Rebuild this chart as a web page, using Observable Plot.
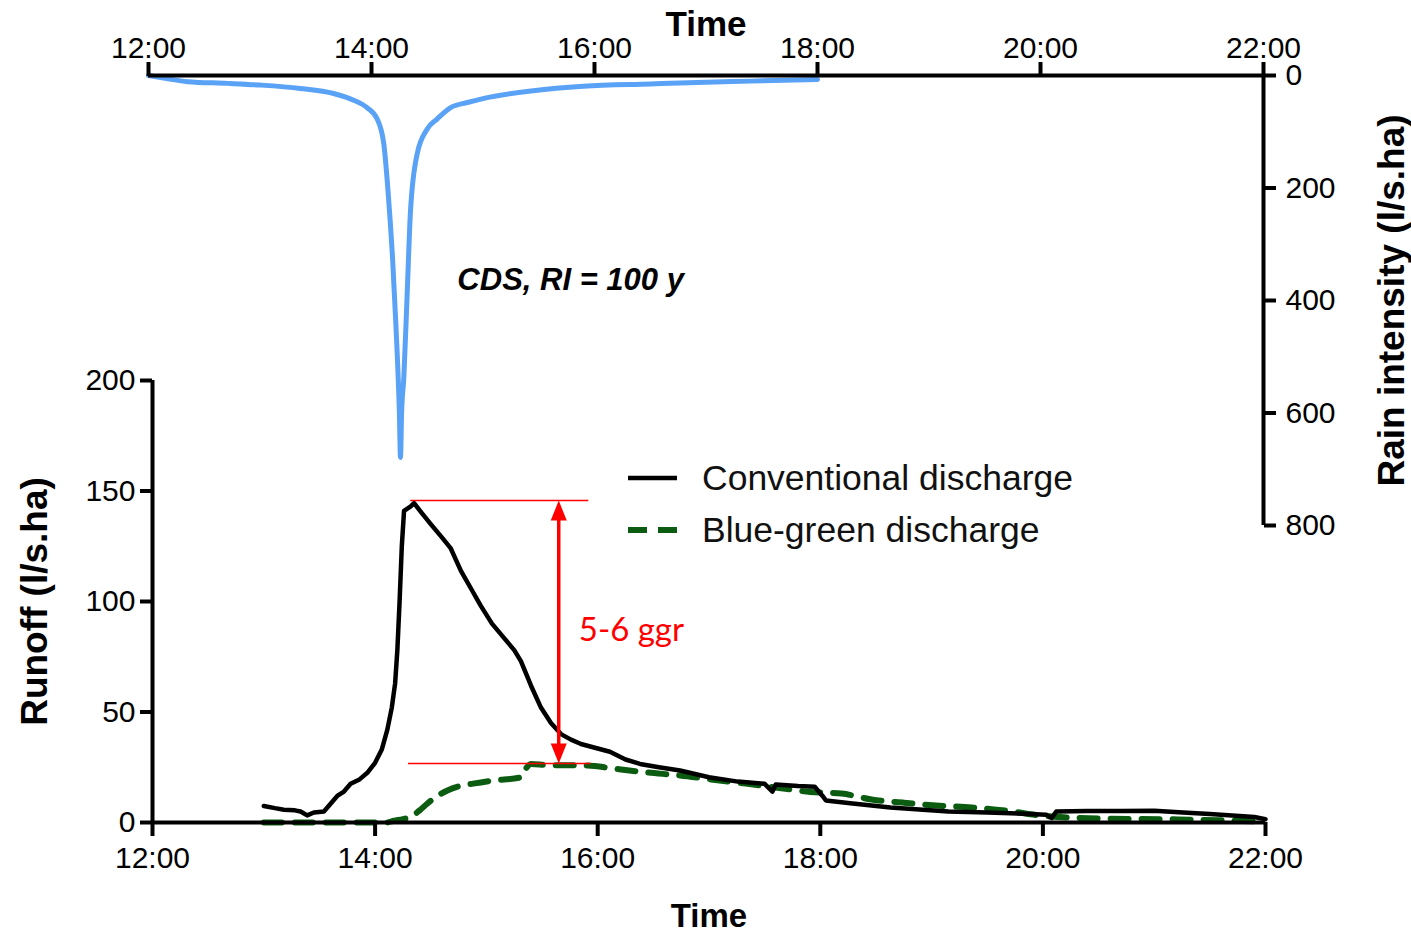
<!DOCTYPE html>
<html>
<head>
<meta charset="utf-8">
<script src="https://cdn.jsdelivr.net/npm/d3@7"></script>
<script src="https://cdn.jsdelivr.net/npm/@observablehq/plot@0.6"></script>
<style>
  html, body { margin: 0; padding: 0; background: white; }
  #wrap { position: relative; width: 1411px; height: 937px; overflow: hidden; background: white; font-family: "Liberation Sans", Arial, sans-serif; }
  #wrap > svg { position: absolute; left: 0; top: 0; }
  .leg { position: absolute; display: flex; align-items: center; font-size: 35.5px; color: #111; white-space: nowrap; }
  .leg svg { position: static; margin-right: 24px; }
</style>
</head>
<body>
<div id="wrap"></div>
<script>
// ---- data (hours of day) ----
const xTicks = [12, 14, 16, 18, 20, 22];
const xTickLabels = ["12:00", "14:00", "16:00", "18:00", "20:00", "22:00"];
const rainTicks = [0, 200, 400, 600, 800];
const runoffTicks = [0, 50, 100, 150, 200];

const rainTime  = [12.00, 12.15, 12.35, 12.71, 13.00, 13.36, 13.66, 13.84, 13.96, 14.05, 14.11, 14.15, 14.19, 14.22, 14.25, 14.26, 14.27, 14.29, 14.32, 14.35, 14.41, 14.50, 14.59, 14.71, 14.86, 15.00, 15.45, 15.90, 16.50, 17.00, 17.40, 18.00];
const rainValue = [0, 5, 11, 14, 17, 23, 32, 44, 57, 77, 121, 210, 329, 448, 600, 679, 600, 537, 388, 240, 139, 95, 77, 57, 48, 41, 27, 19, 15, 12, 10, 7];

const convTime  = [13.00, 13.10, 13.18, 13.28, 13.33, 13.39, 13.45, 13.54, 13.60, 13.66, 13.72, 13.78, 13.86, 13.93, 14.00, 14.06, 14.11, 14.15, 14.18, 14.20, 14.22, 14.24, 14.26, 14.29, 14.32, 14.35, 14.42, 14.50, 14.60, 14.68, 14.77, 14.86, 14.95, 15.05, 15.15, 15.25, 15.31, 15.40, 15.49, 15.58, 15.67, 15.76, 15.85, 16.00, 16.11, 16.25, 16.38, 16.55, 16.74, 17.00, 17.26, 17.50, 17.57, 17.60, 17.80, 17.95, 18.02, 18.05, 18.29, 18.63, 19.15, 19.50, 19.83, 20.03, 20.08, 20.12, 20.40, 20.70, 21.00, 21.22, 21.50, 21.90, 22.00];
const convValue = [7.5, 6.5, 5.8, 5.5, 5.0, 3.2, 4.5, 5.0, 8.5, 12, 14, 17.5, 19.5, 22.5, 27, 33, 42, 52, 63, 78, 100, 125, 141, 142, 143, 144.5, 140, 135, 129, 124, 114, 106, 98, 90, 84, 78, 73, 62, 52, 45, 40, 37.5, 35.5, 33.5, 32, 28.5, 26.5, 25, 23.5, 20.5, 18.5, 17.5, 14, 17.2, 16.5, 16.2, 12, 10, 8.6, 6.8, 5.0, 4.5, 4.0, 3.5, 2.0, 5.0, 5.2, 5.2, 5.3, 4.6, 3.8, 2.5, 1.5];

const bgTime  = [13.00, 14.10, 14.17, 14.25, 14.32, 14.40, 14.47, 14.56, 14.65, 14.76, 14.88, 15.06, 15.31, 15.35, 15.40, 15.55, 15.91, 16.14, 16.45, 16.74, 17.02, 17.33, 17.65, 17.91, 18.19, 18.46, 18.74, 19.04, 19.36, 19.66, 20.01, 20.53, 21.22, 21.90, 22.00];
const bgValue = [0, 0, 0.8, 1.5, 2.5, 5.5, 8.6, 12, 14.5, 16.5, 17.6, 19, 20.4, 24, 26.5, 26, 25.8, 24.4, 22.6, 21.3, 19.5, 17.6, 15.5, 13.8, 13.1, 10.4, 9, 7.7, 6.8, 5.4, 3.0, 1.8, 1.4, 0.5, 0.3];

// annotation (data units)
const peakLevel = 145.7, bgLevel = 26.7;
const peakSpan = [14.32, 15.92], bgSpan = [14.30, 15.94];
const arrowTime = 15.65;
const ratioLabel = {t: 15.83, v: 87, text: "5-6 ggr"};
const stormLabel = {t: 14.77, v: 364, text: "CDS, RI = 100 y"};
const seriesNames = ["Conventional discharge", "Blue-green discharge"];

// ---- build tables ----
const rain = rainTime.map((t, i) => ({t, v: rainValue[i]}));
const conv = convTime.map((t, i) => ({t, v: convValue[i]}));
const bg = bgTime.map((t, i) => ({t, v: bgValue[i]}));

const W = 1411, H = 937;
const FONT = "Liberation Sans, Arial, sans-serif";
const BLUE = "#5aa2f5", GREEN = "#0b5c10", RED = "#ff0000";
const fmt = d => xTickLabels[xTicks.indexOf(d)];
const svgStyle = {background: "transparent", overflow: "visible", fontFamily: FONT, fontSize: "30px", color: "black"};

// ---- top (rain) panel ----
const rainPlot = Plot.plot({
  width: W, height: H,
  marginLeft: 148, marginRight: W - 1263, marginTop: 75, marginBottom: H - 525,
  style: svgStyle,
  x: {domain: [12, 22]},
  y: {domain: [0, 800], reverse: true},
  marks: [
    Plot.line(rain, {x: "t", y: "v", stroke: BLUE, strokeWidth: 5, curve: "monotone-x"}),
    Plot.ruleY([0], {stroke: "black", strokeWidth: 4}),
    Plot.ruleX([22], {stroke: "black", strokeWidth: 4}),
    Plot.axisX({anchor: "top", ticks: xTicks, tickFormat: fmt, tickSize: 14, tickPadding: 4, strokeWidth: 4, fontSize: 30, label: null}),
    Plot.axisY({anchor: "right", ticks: rainTicks, tickSize: 12, tickPadding: 10, strokeWidth: 4, fontSize: 30, label: null}),
    Plot.text(["Time"], {text: d => d, frameAnchor: "top", dy: -51, lineAnchor: "middle", textAnchor: "middle", fontSize: 35, fontWeight: "bold"}),
    Plot.text(["Rain intensity (l/s.ha)"], {text: d => d, frameAnchor: "right", dx: 129, rotate: -90, textAnchor: "middle", lineAnchor: "middle", fontSize: 37, fontWeight: "bold"}),
    Plot.text([stormLabel], {x: "t", y: "v", text: "text", textAnchor: "start", fontSize: 31, fontWeight: "bold", fontStyle: "italic"})
  ]
});

// ---- bottom (runoff) panel ----
const triUp = {draw(ctx) { ctx.moveTo(0, 0); ctx.lineTo(8, 20); ctx.lineTo(-8, 20); ctx.closePath(); }};
const triDown = {draw(ctx) { ctx.moveTo(0, 0); ctx.lineTo(8, -20); ctx.lineTo(-8, -20); ctx.closePath(); }};

const runoffPlot = Plot.plot({
  width: W, height: H,
  marginLeft: 152, marginRight: W - 1265, marginTop: 380, marginBottom: H - 822,
  style: svgStyle,
  x: {domain: [12, 22]},
  y: {domain: [0, 200]},
  marks: [
    Plot.line(bg, {x: "t", y: "v", stroke: GREEN, strokeWidth: 6, strokeDasharray: "18,13", curve: "monotone-x"}),
    Plot.line(conv, {x: "t", y: "v", stroke: "black", strokeWidth: 4.5}),
    Plot.ruleY([0], {stroke: "black", strokeWidth: 4}),
    Plot.ruleX([12], {stroke: "black", strokeWidth: 4}),
    Plot.ruleY([peakLevel], {x1: peakSpan[0], x2: peakSpan[1], stroke: RED, strokeWidth: 1.5}),
    Plot.ruleY([bgLevel], {x1: bgSpan[0], x2: bgSpan[1], stroke: RED, strokeWidth: 1.5}),
    Plot.ruleX([arrowTime], {y1: bgLevel + 6, y2: peakLevel - 6, stroke: RED, strokeWidth: 3.5}),
    Plot.dot([{t: arrowTime, v: peakLevel}], {x: "t", y: "v", symbol: triUp, fill: RED, stroke: "none"}),
    Plot.dot([{t: arrowTime, v: bgLevel}], {x: "t", y: "v", symbol: triDown, fill: RED, stroke: "none"}),
    Plot.text([ratioLabel], {x: "t", y: "v", text: "text", textAnchor: "start", fill: RED, fontSize: 33, fontFamily: "Lato, 'Open Sans', sans-serif"}),
    Plot.axisX({anchor: "bottom", ticks: xTicks, tickFormat: fmt, tickSize: 14, tickPadding: 10, strokeWidth: 4, fontSize: 30, label: null}),
    Plot.axisY({anchor: "left", ticks: runoffTicks, tickSize: 12, tickPadding: 5, strokeWidth: 4, fontSize: 30, label: null}),
    Plot.text(["Time"], {text: d => d, frameAnchor: "bottom", dy: 94, lineAnchor: "middle", textAnchor: "middle", fontSize: 33, fontWeight: "bold"}),
    Plot.text(["Runoff (l/s.ha)"], {text: d => d, frameAnchor: "left", dx: -117, rotate: -90, textAnchor: "middle", lineAnchor: "middle", fontSize: 37, fontWeight: "bold"})
  ]
});

const wrap = document.getElementById("wrap");
wrap.appendChild(runoffPlot);
wrap.appendChild(rainPlot);

// ---- legend ----
function legendItem(name, y, dash, color, sw) {
  const div = document.createElement("div");
  div.className = "leg";
  div.style.left = "628px";
  div.style.top = (y - 22) + "px";
  div.style.height = "44px";
  const ns = "http://www.w3.org/2000/svg";
  const s = document.createElementNS(ns, "svg");
  s.setAttribute("width", "50"); s.setAttribute("height", "12");
  const l = document.createElementNS(ns, "line");
  l.setAttribute("x1", "0"); l.setAttribute("x2", "49"); l.setAttribute("y1", "6"); l.setAttribute("y2", "6");
  l.setAttribute("stroke", color); l.setAttribute("stroke-width", sw);
  if (dash) l.setAttribute("stroke-dasharray", dash);
  s.appendChild(l);
  div.appendChild(s);
  const sp = document.createElement("span");
  sp.textContent = name;
  div.appendChild(sp);
  wrap.appendChild(div);
}
legendItem(seriesNames[0], 478, null, "black", 4.5);
legendItem(seriesNames[1], 530, "19,11", GREEN, 6);
</script>
</body>
</html>
